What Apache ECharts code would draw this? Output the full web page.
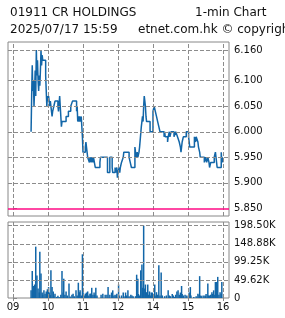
<!DOCTYPE html>
<html><head><meta charset="utf-8">
<script src="https://cdn.jsdelivr.net/npm/echarts@6/dist/echarts.min.js"></script>
<style>html,body{margin:0;padding:0;background:#fff}#c{width:285px;height:318px}</style>
</head><body><div id="c"></div>
<script>
// x values: trading minutes since 09:00 with the 12:00-13:00 lunch break removed
const priceMinutes = [31,32,33,34,35,36,37,38,39,40,41,42,43,44,45,46,47,48,49,50,51,54,56,57,58,59,60,61,62,63,64,66,67,68,70,72,74,77,78,80,81,82,83,84,91,95,99,102,109,110,111,112,113,114,115,117,118,119,120,122,124,125,126,127,128,131,132,134,135,137,138,141,149,150,162,166,170,171,175,176,178,179,180,182,183,184,186,189,190,199,201,203,209,210,211,213,214,216,217,220,221,222,223,224,225,226,227,228,229,235,240,242,244,246,248,250,252,259,260,261,263,265,266,268,269,271,274,276,279,282,285,287,288,290,292,297,301,303,311,313,314,317,318,320,321,328,330,332,334,336,337,339,345,347,349,350,357,358,359,360];
const priceValues = [6.00,6.07,6.13,6.08,6.10,6.05,6.08,6.12,6.07,6.16,6.11,6.14,6.10,6.08,6.11,6.09,6.12,6.16,6.13,6.15,6.14,6.14,6.11,6.08,6.05,6.07,6.06,6.07,6.06,6.05,6.06,6.04,6.03,6.04,6.05,6.06,6.06,6.05,6.04,6.07,6.05,6.03,6.01,6.02,6.03,6.04,6.05,6.06,6.04,6.05,6.02,6.03,6.02,6.03,6.02,6.03,6.01,5.99,5.96,5.96,5.97,5.98,5.97,5.96,5.95,5.94,5.95,5.94,5.95,5.94,5.95,5.93,5.94,5.95,5.92,5.95,5.93,5.92,5.93,5.92,5.93,5.91,5.92,5.93,5.92,5.93,5.94,5.95,5.96,5.95,5.94,5.93,5.97,5.96,5.95,5.96,5.95,5.96,5.97,6.01,6.02,6.03,6.02,6.05,6.07,6.06,6.05,6.03,6.02,6.00,6.04,6.05,6.04,6.03,6.02,6.01,6.00,5.99,6.00,5.99,5.99,5.98,5.99,6.00,5.99,6.00,6.00,5.99,6.00,5.99,5.98,5.97,5.96,5.98,5.99,6.00,5.99,5.97,5.99,5.98,5.99,5.98,5.97,5.96,5.95,5.94,5.95,5.94,5.95,5.94,5.93,5.94,5.95,5.96,5.94,5.93,5.96,5.94,5.95,5.94];
const volumeMinutes = [31,33,35,37,39,41,43,45,46,48,50,51,53,55,57,59,61,62,64,65,67,69,70,72,75,77,79,82,84,86,87,89,91,93,96,98,101,103,105,108,110,112,114,115,117,119,120,122,124,126,128,130,132,133,135,137,139,140,142,144,151,154,158,161,163,166,169,171,173,175,177,178,181,182,186,189,192,193,195,197,199,202,204,206,210,212,214,215,217,219,221,222,224,226,227,229,231,232,234,236,237,239,241,243,245,246,248,250,252,254,256,260,263,266,268,270,273,275,277,279,281,283,285,287,289,290,292,295,298,301,302,304,305,310,314,317,319,320,322,323,326,329,330,331,334,335,337,339,341,342,344,346,347,349,351,353,355,357,358];
const volumeValues = [21,74,33,37,141,62,26,15,127,67,15,9,21,12,18,24,30,15,8,76,30,18,6,12,3,6,3,9,74,15,53,9,18,7,40,4,9,12,5,21,7,42,16,21,7,120,16,7,12,15,18,7,12,12,28,9,15,9,28,7,9,12,9,9,30,9,15,21,7,9,7,12,37,7,7,15,5,15,7,21,5,9,7,5,5,64,53,11,7,76,92,28,198.5,26,37,16,37,9,18,7,15,15,7,37,7,16,9,90,7,70,7,5,7,21,7,5,11,7,3,9,18,21,9,15,33,11,7,9,7,5,15,30,7,3,5,12,9,60,7,5,7,7,5,11,40,7,7,9,16,11,21,9,44,44,58,9,16,11,44].map(v => v * 1000);
const timeTickValues = [0,60,120,180,240,300,360];
const timeTickLabels = ['09','10','11','12','14','15','16'];
const priceTickValues = [5.85,5.90,5.95,6.00,6.05,6.10,6.16];
const volTickValues = [0,49625,99250,148875,198500];
const volTickLabels = ['0','49.62K','99.25K','148.88K','198.50K'];
const prevClose = 5.85;
const titleLeft = '01911 CR HOLDINGS';
const titleRight = '1-min Chart';
const subLeft = '2025/07/17 15:59';
const subRight = 'etnet.com.hk \u00a9 copyright';

const FONT = 'DejaVu Sans';
const GRID_COLOR = '#8c8c8c';
const priceMarks = timeTickValues.map(v => ({xAxis:v}))
  .concat(priceTickValues.filter(v => v !== prevClose).map(v => ({yAxis:v})))
  .concat([{yAxis:prevClose, lineStyle:{color:'#ff0a84', type:'solid', width:1.5}}]);
const volMarks = timeTickValues.map(v => ({xAxis:v}))
  .concat(volTickValues.filter(v => v > 0).map(v => ({yAxis:v})));

const chart = echarts.init(document.getElementById('c'), null, {renderer:'canvas'});
chart.setOption({
  animation:false,
  grid:[
    {left:8, top:42, width:221, height:174, show:true, borderColor:'#888', borderWidth:1},
    {left:8, top:222, width:221, height:76, show:true, borderColor:'#888', borderWidth:1}
  ],
  xAxis:[
    {type:'value', gridIndex:0, min:-8.57, max:370.3,
     axisLine:{show:false}, axisTick:{show:false}, axisLabel:{show:false}, splitLine:{show:false}},
    {type:'value', gridIndex:1, min:-8.57, max:370.3,
     axisLine:{show:false},
     axisTick:{show:true, length:3, lineStyle:{color:'#888'}, customValues:timeTickValues},
     axisLabel:{show:true, customValues:timeTickValues, margin:4, fontFamily:FONT, fontSize:10, color:'#111',
       formatter:v => timeTickLabels[timeTickValues.indexOf(v)]},
     splitLine:{show:false}}
  ],
  yAxis:[
    {type:'value', gridIndex:0, position:'right', min:5.835, max:6.1758,
     axisLine:{show:false},
     axisTick:{show:true, length:4, lineStyle:{color:'#888'}, customValues:priceTickValues},
     axisLabel:{customValues:priceTickValues, margin:5, fontFamily:FONT, fontSize:10, color:'#111',
       formatter:v => v.toFixed(3)},
     splitLine:{show:false}},
    {type:'value', gridIndex:1, position:'right', min:0, max:208700,
     axisLine:{show:false},
     axisTick:{show:true, length:4, lineStyle:{color:'#888'}, customValues:volTickValues},
     axisLabel:{customValues:volTickValues, margin:5, fontFamily:FONT, fontSize:10, color:'#111',
       formatter:v => volTickLabels[volTickValues.indexOf(v)]},
     splitLine:{show:false}}
  ],
  series:[
    {type:'line', xAxisIndex:0, yAxisIndex:0, step:'end', showSymbol:false,
     data:priceMinutes.map((m,i)=>[m, priceValues[i]]),
     lineStyle:{color:'#1266a8', width:1.5}, itemStyle:{color:'#1266a8'},
     markLine:{silent:true, symbol:['none','none'], label:{show:false},
       lineStyle:{color:GRID_COLOR, type:'dashed', width:1},
       data:priceMarks}},
    {type:'bar', xAxisIndex:1, yAxisIndex:1, barWidth:1.5,
     data:volumeMinutes.map((m,i)=>[m, volumeValues[i]]),
     itemStyle:{color:'#1266a8'},
     markLine:{silent:true, symbol:['none','none'], label:{show:false},
       lineStyle:{color:GRID_COLOR, type:'dashed', width:1},
       data:volMarks}}
  ],
  graphic:[
    {type:'text', style:{text:titleLeft, x:10, y:12.5, font:'12px "DejaVu Sans"', fill:'#111', verticalAlign:'middle'}},
    {type:'text', style:{text:titleRight, x:195, y:12.5, font:'12px "DejaVu Sans"', fill:'#111', verticalAlign:'middle'}},
    {type:'text', style:{text:subLeft, x:10, y:30, font:'12px "DejaVu Sans"', fill:'#111', verticalAlign:'middle'}},
    {type:'text', style:{text:subRight, x:138, y:30, font:'12px "DejaVu Sans"', fill:'#111', verticalAlign:'middle'}}
  ]
});
</script></body></html>
